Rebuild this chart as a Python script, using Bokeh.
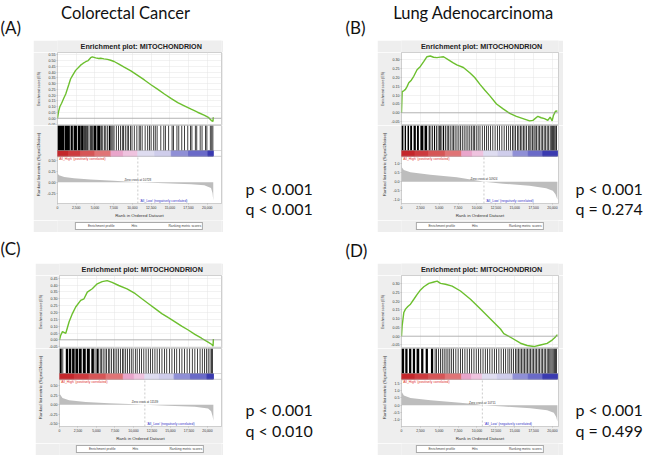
from bokeh.plotting import figure
from bokeh.layouts import column, row
from bokeh.models import (Range1d, Label, Span, SingleIntervalTicker, FixedTicker,
                          NumeralTickFormatter, Legend, Spacer)
from bokeh.embed import file_html
from bokeh.resources import INLINE

# ---------------- data ----------------
headers = ["Colorectal Cancer", "Lung Adenocarcinoma"]
panel_tags = ["(A)", "(B)", "(C)", "(D)"]
plot_title = "Enrichment plot: MITOCHONDRION"
p_texts = ["p < 0.001", "p < 0.001", "p < 0.001", "p < 0.001"]
q_texts = ["q < 0.001", "q = 0.274", "q < 0.010", "q = 0.499"]
zero_cross = [10728, 10924, 11539, 10711]
high_label = "'All_High' (positively correlated)"
low_label = "'All_Low' (negatively correlated)"
legend_labels = ["Enrichment profile", "Hits", "Ranking metric scores"]
es_axis_label = "Enrichment score (ES)"
metric_axis_label = "Ranked list metric (Signal2Noise)"
x_axis_label = "Rank in Ordered Dataset"
m_ticks_A = [-0.25, 0.0, 0.25, 0.5]
m_ticks_B = [-1.0, -0.5, 0.0, 0.5, 1.0]
m_ticks_C = [-0.5, -0.25, 0.0, 0.25, 0.5]
m_ticks_D = [-1.0, -0.5, 0.0, 0.5, 1.0, 1.5]

# running enrichment score
es_rank_A = [0, 150, 310, 550, 850, 1100, 1300, 1500, 1745, 2000, 2420, 2800, 3090, 3400, 3760, 4100,
             4430, 4650, 5100, 5500, 5770, 6200, 6670, 7100, 7560, 8200, 8900, 9800, 10700, 11600,
             12480, 13400, 14270, 15200, 16060, 17000, 17850, 18700, 19640, 20200, 20550, 20760, 20800]
es_val_A = [0, 0.06, 0.10, 0.13, 0.175, 0.21, 0.25, 0.29, 0.34, 0.37, 0.415, 0.44, 0.46, 0.475, 0.49,
            0.50, 0.525, 0.532, 0.523, 0.518, 0.52, 0.515, 0.51, 0.503, 0.492, 0.47, 0.443, 0.41,
            0.372, 0.332, 0.29, 0.25, 0.21, 0.17, 0.135, 0.105, 0.078, 0.052, 0.025, 0.005, -0.02,
            -0.028, 0.008]
es_rank_B = [0, 88, 300, 526, 750, 965, 1300, 1623, 2061, 2500, 2939, 3377, 3816, 4250, 4693, 5130,
             5570, 6228, 6800, 7325, 8202, 9079, 9700, 10395, 11050, 11711, 12588, 13465, 14342,
             15219, 16096, 16974, 17412, 18070, 18509, 18947, 19386, 19693, 19956, 20132, 20395, 20650]
es_val_B = [0, 0.12, 0.125, 0.133, 0.15, 0.17, 0.185, 0.207, 0.244, 0.263, 0.29, 0.318, 0.322, 0.315,
            0.313, 0.316, 0.318, 0.30, 0.285, 0.272, 0.257, 0.226, 0.20, 0.161, 0.128, 0.096, 0.05,
            0.022, -0.003, -0.02, -0.033, -0.046, -0.043, -0.02, -0.028, -0.033, -0.043, -0.024,
            -0.046, -0.015, 0.009, 0.01]
es_rank_C = [0, 180, 400, 850, 1300, 1745, 2190, 2860, 3310, 3760, 4430, 5100, 5770, 6440, 7110, 8010,
             9130, 10250, 11140, 12040, 12930, 13830, 14720, 15620, 16510, 17400, 18300, 19200, 20090,
             20600, 20760, 20800]
es_val_C = [0, 0.036, 0.06, 0.048, 0.132, 0.192, 0.24, 0.288, 0.30, 0.349, 0.373, 0.409, 0.425, 0.433,
            0.42, 0.397, 0.373, 0.337, 0.30, 0.264, 0.228, 0.192, 0.162, 0.132, 0.10, 0.072, 0.04,
            0.012, -0.017, -0.034, -0.046, 0.007]
es_rank_D = [0, 88, 309, 530, 839, 1192, 1634, 2075, 2517, 2958, 3620, 4283, 4724, 5166, 5828, 6711,
             7815, 9139, 10464, 11788, 13113, 13554, 14437, 15762, 16645, 17528, 18411, 19294, 19956,
             20397, 20650]
es_val_D = [0, 0.06, 0.135, 0.154, 0.169, 0.182, 0.21, 0.238, 0.263, 0.281, 0.30, 0.308, 0.313, 0.30,
            0.295, 0.285, 0.257, 0.21, 0.154, 0.098, 0.041, 0.015, -0.006, -0.04, -0.053, -0.059,
            -0.05, -0.041, -0.022, -0.004, 0.009]

# ranked list metric
m_rank_A = [0, 60, 200, 900, 2200, 4400, 7500, 10728, 14300, 17850, 19600, 20500, 20700, 20800]
m_val_A = [0.23, 0.19, 0.16, 0.12, 0.095, 0.065, 0.035, 0.0, -0.025, -0.045, -0.07, -0.13, -0.25, -0.42]
m_rank_B = [0, 60, 307, 1184, 3816, 7325, 10614, 10924, 13465, 16974, 19167, 20044, 20400, 20650]
m_val_B = [0.9, 0.8, 0.66, 0.54, 0.39, 0.25, 0.036, 0.0, -0.107, -0.23, -0.36, -0.5, -0.7, -1.0]
m_rank_C = [0, 60, 403, 1298, 3535, 6667, 10246, 11539, 14720, 18300, 20090, 20500, 20700, 20800]
m_val_C = [0.35, 0.28, 0.18, 0.12, 0.073, 0.04, 0.016, 0.0, -0.024, -0.048, -0.10, -0.17, -0.3, -0.42]
m_rank_D = [0, 60, 309, 1192, 3841, 7373, 10022, 10711, 13554, 17086, 19294, 20177, 20500, 20650]
m_val_D = [1.0, 0.87, 0.66, 0.49, 0.34, 0.19, 0.064, 0.0, -0.085, -0.21, -0.34, -0.51, -0.8, -1.1]

# hits: solid black stretches (start/end rank) and single hit lines (rank)
blk_start_A = [0, 950, 1750, 2150, 2700, 3150, 4800, 5300, 6850]
blk_end_A = [900, 1650, 2050, 2600, 3100, 3500, 5200, 5750, 7100]
hit_A = [3600, 3750, 3850, 4000, 4200, 4400, 4550, 4650, 5900, 6050, 6300, 6450, 6650, 7250, 7400,
         7550, 7850, 8150, 8400, 8650, 8800, 9050, 9300, 9500, 9750, 9950, 10250, 10600, 10900, 11050,
         11300, 11700, 12050, 12300, 12500, 12850, 13050, 13300, 13800, 14200, 14400, 14850, 15300,
         15500, 15950, 16200, 16600, 16950, 17400, 17750, 17950, 18400, 18600, 19050, 19300, 19750,
         19950, 20400, 20600, 20750]
blk_start_B = [0, 420, 800, 1150, 1600, 2050, 2500, 3050, 3600, 4300, 5000, 5500]
blk_end_B = [250, 600, 1000, 1400, 1900, 2300, 2900, 3400, 3750, 4450, 5200, 5650]
hit_B = [3900, 4100, 4650, 4850, 5350, 5850, 6050, 6250, 6450, 6700, 6900, 7100, 7350, 7600, 7800,
         8050, 8300, 8550, 8800, 9050, 9300, 9500, 9650, 9900, 10150, 10400, 10700, 11000, 11250,
         11500, 11800, 12100, 12400, 12700, 13000, 13300, 13600, 13900, 14200, 14450, 14700, 14900,
         15100, 15350, 15550, 15750, 15950, 16150, 16350, 16550, 16800, 17000, 17150, 17350, 17550,
         17700, 17900, 18100, 18300, 18500, 18700, 18900, 19100, 19300, 19500, 19700, 19850, 20000,
         20150, 20300, 20450, 20550]
blk_start_C = [0, 850, 1250, 1700, 2150, 2600, 3150, 3700, 4300, 5000]
blk_end_C = [300, 1150, 1600, 2050, 2500, 3000, 3550, 4100, 4650, 5300]
hit_C = [450, 4800, 5500, 5700, 5900, 6150, 6350, 6600, 6800, 7050, 7300, 7500, 7750, 8000, 8250,
         8500, 8700, 8950, 9200, 9450, 9700, 9950, 10250, 10500, 10800, 11100, 11400, 11700, 12000,
         12300, 12600, 12900, 13200, 13500, 13850, 14200, 14500, 14850, 15200, 15550, 15850, 16200,
         16550, 16900, 17250, 17600, 17950, 18300, 18650, 19000, 19300, 19600, 19850, 20100, 20350,
         20550, 20700]
blk_start_D = [0, 500, 1000, 1500, 2000, 2600, 3200, 3900]
blk_end_D = [350, 800, 1300, 1800, 2350, 2900, 3500, 4200]
hit_D = [4450, 4650, 4900, 5150, 5400, 5650, 5900, 6150, 6400, 6650, 6900, 7200, 7500, 7800, 8100,
         8400, 8700, 9000, 9300, 9600, 9900, 10200, 10500, 10800, 11100, 11400, 11700, 12000, 12300,
         12600, 12900, 13200, 13500, 13800, 14100, 14350, 14600, 14850, 15100, 15300, 15500, 15700,
         15900, 16100, 16300, 16500, 16700, 16900, 17100, 17300, 17500, 17700, 17900, 18100, 18300,
         18500, 18700, 18900, 19100, 19300, 19500, 19650, 19800, 19950, 20100, 20250, 20400, 20550]

# phenotype colour bar (segment edges in rank and colours)
cb_edges_A = [0, 1500, 3100, 5000, 7150, 8800, 10730, 13000, 15200, 17500, 20100, 20800]
cb_edges_B = [0, 1800, 3600, 5800, 7980, 9400, 10900, 12800, 14780, 16800, 18730, 20650]
cb_edges_C = [0, 2000, 4000, 6300, 8620, 10100, 11540, 13500, 15500, 17700, 19950, 20800]
cb_edges_D = [0, 1800, 3600, 5800, 7980, 9300, 10710, 12700, 14780, 16800, 18730, 20650]
cb_colors = ["#c4262b", "#cd3a3e", "#d65556", "#e07476", "#e9a5cb", "#efc3df", "#dedcf0",
             "#cfcdeb", "#8f8fd6", "#6a6ac8", "#3a3ab0"]

# ---------------- styling ----------------
BG = "#eeeeee"
GREEN = "#6cbf2e"
SF = "Liberation Sans"
BIG = "Lato"
TITLE_H = 12      # title strip height (px)
ES_H = 73         # enrichment score frame height
FRAME_H = 81      # hits + colour bar + metric frame height
METRIC_H = 49     # metric part of that frame
CB_H = 6          # colour bar height
AXIS_H = 14       # x axis below metric
LEG_H = 12        # legend strip
HIT_W = 100       # drawn width of one hit line, in ranks


def style_small_axis(ax, label_size="3.6px", title_size="3.4px"):
    ax.major_label_text_font = SF
    ax.major_label_text_font_size = label_size
    ax.major_label_text_color = "#333333"
    ax.axis_label_text_font = SF
    ax.axis_label_text_font_size = title_size
    ax.axis_label_text_font_style = "normal"
    ax.axis_label_text_color = "#333333"
    ax.major_tick_out = 1
    ax.major_tick_in = 0
    ax.minor_tick_out = 0
    ax.minor_tick_in = 0
    ax.major_label_standoff = 1
    ax.axis_label_standoff = 3
    ax.axis_line_color = None
    ax.major_tick_line_color = "#999999"
    ax.major_tick_line_width = 0.5


def text_fig(width, height, labels, bg="white", font=BIG, style="normal", color="#111111"):
    f = figure(width=width, height=height, x_range=Range1d(0, width), y_range=Range1d(height, 0),
               toolbar_location=None, output_backend="svg", min_border=0,
               x_axis_location=None, y_axis_location=None, outline_line_color=None,
               background_fill_color=bg, border_fill_color=bg)
    f.grid.visible = False
    for (tx, ty, t, align, size) in labels:
        f.add_layout(Label(x=tx, y=ty, text=t, text_align=align, text_baseline="middle",
                           text_font=font, text_font_size=size, text_color=color,
                           text_font_style=style))
    return f


def make_panel(width, ml, mr, xmax, es_rank, es_val, es_range, m_rank, m_val, m_range, m_ticks,
               m_fmt, bs, be, hits, cb_edges, zc):
    xr = Range1d(0, xmax)
    common = dict(toolbar_location=None, output_backend="svg", border_fill_color=BG,
                  background_fill_color="white", min_border_left=ml, min_border_right=mr)
    # title strip
    tf = text_fig(width, TITLE_H, [(width / 2 + 2, 5.5, plot_title, "center", "7.2px")], bg=BG,
                  font=SF, style="bold", color="#222222")

    # enrichment score plot
    es = figure(width=width, height=ES_H, x_range=xr, y_range=Range1d(*es_range),
                x_axis_location=None, min_border_top=0, min_border_bottom=0, **common)
    es.xgrid.ticker = SingleIntervalTicker(interval=2500, num_minor_ticks=0)
    es.grid.grid_line_color = "#e4e4e4"
    es.grid.grid_line_width = 0.5
    es.add_layout(Span(location=0, dimension="width", line_color="#8c8c8c", line_width=0.6))
    es.line(es_rank, es_val, line_color=GREEN, line_width=1.4)
    es.yaxis.ticker = SingleIntervalTicker(interval=0.05, num_minor_ticks=0)
    es.yaxis.formatter = NumeralTickFormatter(format="0.00")
    es.yaxis.axis_label = es_axis_label
    style_small_axis(es.yaxis[0], "3.6px", "3.4px")
    es.outline_line_color = "#b0b0b0"
    es.outline_line_width = 0.6

    # hits, colour bar and ranked list metric share one frame
    m_lo, m_hi = m_range
    m_top = m_lo + (m_hi - m_lo) * FRAME_H / METRIC_H
    mf = figure(width=width, height=FRAME_H + AXIS_H, x_range=xr, y_range=Range1d(m_lo, m_top),
                min_border_top=0, min_border_bottom=AXIS_H, **common)
    mf.extra_y_ranges = {"band": Range1d(0, FRAME_H)}
    mf.quad(left=cb_edges[:-1], right=cb_edges[1:], bottom=METRIC_H, top=METRIC_H + CB_H,
            color=cb_colors, y_range_name="band")
    mf.quad(left=bs, right=be, bottom=METRIC_H + CB_H, top=FRAME_H, color="black", line_width=0,
            y_range_name="band")
    mf.vbar(x=hits, width=HIT_W, bottom=METRIC_H + CB_H, top=FRAME_H, color="black",
            line_width=0, y_range_name="band")
    mf.add_layout(Span(location=METRIC_H, dimension="width", line_color="#b0b0b0",
                       line_width=0.6, y_range_name="band"))
    mf.add_layout(Span(location=METRIC_H + CB_H, dimension="width", line_color="#b0b0b0",
                       line_width=0.5, y_range_name="band"))
    mf.varea(x=m_rank, y1=0, y2=m_val, fill_color="#bdbdbd")
    mf.segment(x0=[zc], y0=[m_lo], x1=[zc], y1=[m_hi], line_color="#a8a8a8", line_width=0.6,
               line_dash="2 2")
    mf.grid.visible = False
    mf.xaxis.ticker = SingleIntervalTicker(interval=2500, num_minor_ticks=0)
    mf.xaxis.formatter = NumeralTickFormatter(format="0,0")
    mf.xaxis.axis_label = x_axis_label
    mf.yaxis.ticker = FixedTicker(ticks=m_ticks)
    mf.yaxis.formatter = NumeralTickFormatter(format=m_fmt)
    mf.yaxis.axis_label = metric_axis_label
    style_small_axis(mf.yaxis[0], "3.6px", "4.3px")
    style_small_axis(mf.xaxis[0], "3.4px", "4.4px")
    mf.xaxis.axis_label_standoff = 1
    mf.outline_line_color = "#b0b0b0"
    mf.outline_line_width = 0.6
    mf.add_layout(Label(x=0, y=m_hi, x_offset=1, y_offset=-1, text=high_label,
                        text_baseline="top", text_font=SF, text_font_size="3.4px",
                        text_color="#e0302c"))
    mf.add_layout(Label(x=zc, y=0, y_offset=1, text="Zero cross at %d" % zc, text_align="center",
                        text_baseline="bottom", text_font=SF, text_font_size="3px",
                        text_color="#333333"))
    mf.add_layout(Label(x=zc, y=m_lo, x_offset=2, y_offset=1, text=low_label,
                        text_baseline="bottom", text_font=SF, text_font_size="3.4px",
                        text_color="#3535c8"))

    # legend
    lg = figure(width=width, height=LEG_H, toolbar_location=None, output_backend="svg",
                border_fill_color=BG, background_fill_color=BG, min_border=0,
                x_axis_location=None, y_axis_location=None, outline_line_color=None)
    lg.grid.visible = False
    r1 = lg.line(x=[], y=[], line_color=GREEN, line_width=1)
    r2 = lg.line(x=[], y=[], line_color="black", line_width=0.8)
    r3 = lg.line(x=[], y=[], line_color="#cfcfcf", line_width=0.8)
    leg = Legend(items=[(legend_labels[0], [r1]), (legend_labels[1], [r2]),
                        (legend_labels[2], [r3])],
                 orientation="horizontal", location="center", label_text_font=SF,
                 label_text_font_size="3.3px", label_height=4, glyph_height=4, glyph_width=9,
                 label_standoff=2, spacing=6, padding=1, margin=0, border_line_color="#555555",
                 border_line_width=0.6, background_fill_color="white")
    lg.add_layout(leg, "center")
    return column(tf, es, mf, lg, spacing=0)


panel_A = make_panel(190, 24, 2, 21900, es_rank_A, es_val_A, (-0.063, 0.57), m_rank_A, m_val_A,
                     (-0.49, 0.6), m_ticks_A, "0.00", blk_start_A, blk_end_A, hit_A, cb_edges_A,
                     zero_cross[0])
panel_B = make_panel(186, 24, 5, 20800, es_rank_B, es_val_B, (-0.072, 0.342), m_rank_B, m_val_B,
                     (-1.22, 1.43), m_ticks_B, "0.0", blk_start_B, blk_end_B, hit_B, cb_edges_B,
                     zero_cross[1])
panel_C = make_panel(188, 22, 2, 21900, es_rank_C, es_val_C, (-0.063, 0.47), m_rank_C, m_val_C,
                     (-0.57, 0.67), m_ticks_C, "0.00", blk_start_C, blk_end_C, hit_C, cb_edges_C,
                     zero_cross[2])
panel_D = make_panel(186, 24, 5, 20800, es_rank_D, es_val_D, (-0.07, 0.345), m_rank_D, m_val_D,
                     (-1.44, 1.75), m_ticks_D, "0.0", blk_start_D, blk_end_D, hit_D, cb_edges_D,
                     zero_cross[3])

PANEL_H = TITLE_H + ES_H + FRAME_H + AXIS_H + LEG_H   # 192

head_top = text_fig(653, 40, [(125, 12, headers[0], "center", "16.5px"),
                              (473, 12, headers[1], "center", "16.5px"),
                              (0, 27, panel_tags[0], "left", "17px"),
                              (345, 27, panel_tags[1], "left", "17px")])
head_mid = text_fig(653, 31, [(0, 16, panel_tags[2], "left", "17px"),
                              (345, 18, panel_tags[3], "left", "17px")])
pq_A = text_fig(154, PANEL_H, [(22, 148, p_texts[0], "left", "16px"),
                               (22, 168, q_texts[0], "left", "16px")])
pq_B = text_fig(90, PANEL_H, [(12, 148, p_texts[1], "left", "16px"),
                              (12, 168, q_texts[1], "left", "16px")])
pq_C = text_fig(154, PANEL_H, [(22, 146, p_texts[2], "left", "16px"),
                               (22, 167, q_texts[2], "left", "16px")])
pq_D = text_fig(90, PANEL_H, [(12, 146, p_texts[3], "left", "16px"),
                              (12, 167, q_texts[3], "left", "16px")])

layout = column(
    head_top,
    row(Spacer(width=33, height=PANEL_H), panel_A, pq_A, panel_B, pq_B, spacing=0),
    head_mid,
    row(Spacer(width=35, height=PANEL_H), panel_C, pq_C, panel_D, pq_D, spacing=0),
    spacing=0,
)

open("out.html", "w").write(file_html(layout, INLINE))
